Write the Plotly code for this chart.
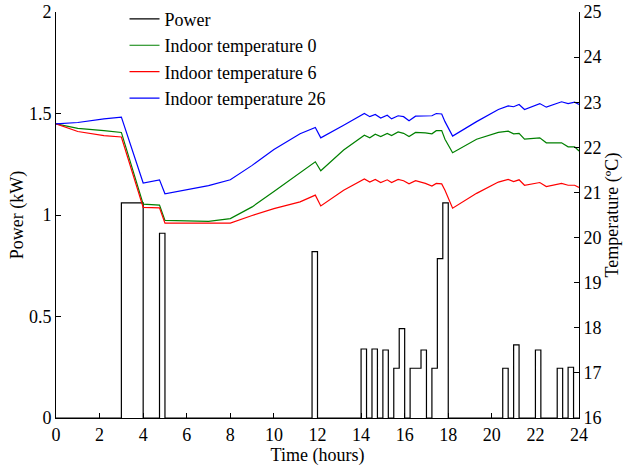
import plotly.graph_objects as go

# Power step profile (value holds from each time until the next)
power_time = [0, 3, 4, 4.75, 5, 11.75, 12, 14, 14.25, 14.5, 14.75, 15, 15.25, 15.5, 15.75,
              16, 16.25, 16.75, 17, 17.25, 17.5, 17.75, 18, 20.5, 20.75, 21, 21.25, 22,
              22.25, 23, 23.25, 23.5, 23.75, 24]
power_kw = [0, 1.06, 0, 0.91, 0, 0.82, 0, 0.34, 0, 0.34, 0, 0.335, 0, 0.245, 0.44,
            0, 0.245, 0.335, 0, 0.245, 0.785, 1.06, 0, 0.245, 0, 0.36, 0, 0.335,
            0, 0.245, 0, 0.25, 0, 0]

temp_time = [0, 1, 2.2, 3, 4, 4.75, 5, 7, 8, 9, 10, 11.2, 11.9, 12.15, 13.2, 14.15, 14.4,
             14.65, 14.9, 15.2, 15.4, 15.7, 15.95, 16.2, 16.5, 16.95, 17.25, 17.45, 17.7,
             17.85, 18.2, 19.3, 20.3, 20.75, 21.0, 21.25, 21.5, 22.2, 22.5, 23.2, 23.5,
             23.8, 24]
temp_0 = [22.52, 22.42, 22.37, 22.33, 20.74, 20.72, 20.38, 20.36, 20.42, 20.68, 21.02,
          21.43, 21.68, 21.48, 21.94, 22.27, 22.21, 22.29, 22.24, 22.31, 22.26, 22.34,
          22.31, 22.24, 22.33, 22.32, 22.30, 22.37, 22.37, 22.18, 21.88, 22.18, 22.33,
          22.36, 22.30, 22.31, 22.18, 22.21, 22.10, 22.10, 22.01, 22.01, 21.92]
temp_6 = [22.52, 22.35, 22.26, 22.23, 20.67, 20.66, 20.32, 20.32, 20.32, 20.49, 20.64,
          20.79, 20.94, 20.70, 21.05, 21.30, 21.23, 21.29, 21.22, 21.28, 21.22, 21.29,
          21.26, 21.19, 21.26, 21.20, 21.14, 21.20, 21.19, 21.05, 20.65, 20.98, 21.23,
          21.29, 21.24, 21.28, 21.16, 21.22, 21.13, 21.20, 21.16, 21.16, 21.11]
temp_26 = [22.52, 22.55, 22.63, 22.67, 21.21, 21.28, 20.97, 21.15, 21.28, 21.60, 21.95,
           22.30, 22.44, 22.21, 22.49, 22.75, 22.68, 22.73, 22.65, 22.71, 22.63, 22.70,
           22.68, 22.59, 22.69, 22.69, 22.70, 22.75, 22.74, 22.57, 22.25, 22.57, 22.84,
           22.92, 22.90, 22.95, 22.84, 22.97, 22.89, 23.01, 22.97, 23.00, 22.95]

x_ticks = list(range(0, 25, 2))
power_ticks = [0, 0.5, 1, 1.5, 2]
temp_ticks = list(range(16, 26))

FONT = "Liberation Serif, Times New Roman, serif"

fig = go.Figure()
fig.add_trace(go.Scatter(x=power_time, y=power_kw, mode="lines", line_shape="hv",
                         line=dict(color="black", width=1.2), name="Power",
                         legendgroup="a", yaxis="y"))
fig.add_trace(go.Scatter(x=temp_time, y=temp_0, mode="lines",
                         line=dict(color="#008000", width=1.2), name="Indoor temperature 0",
                         legendgroup="b", yaxis="y2"))
fig.add_trace(go.Scatter(x=temp_time, y=temp_6, mode="lines",
                         line=dict(color="#ff0000", width=1.2), name="Indoor temperature 6",
                         legendgroup="c", yaxis="y2"))
fig.add_trace(go.Scatter(x=temp_time, y=temp_26, mode="lines",
                         line=dict(color="#0000ff", width=1.2), name="Indoor temperature 26",
                         legendgroup="d", yaxis="y2"))

axis_common = dict(showgrid=False, zeroline=False, showline=True, linecolor="black",
                   linewidth=1, ticks="inside", ticklen=5, tickcolor="black",
                   tickfont=dict(family=FONT, size=18, color="black"))

fig.update_layout(
    width=642, height=469,
    margin=dict(l=56, r=63, t=12, b=51, autoexpand=False),
    paper_bgcolor="white", plot_bgcolor="white",
    font=dict(family=FONT, size=18, color="black"),
    xaxis=dict(range=[0, 24], tickvals=x_ticks, mirror=False,
               title=dict(text="Time (hours)", font=dict(family=FONT, size=18), standoff=0),
               **axis_common),
    yaxis=dict(range=[0, 2], tickvals=power_ticks,
               title=dict(text="Power (kW)", font=dict(family=FONT, size=18), standoff=0),
               **axis_common),
    yaxis2=dict(range=[16, 25], tickvals=temp_ticks, overlaying="y", side="right",
                title=dict(text="Temperature (ºC)", font=dict(family=FONT, size=18), standoff=4),
                **axis_common),
    legend=dict(x=0.131, y=1.028, xanchor="left", yanchor="top", bgcolor="rgba(0,0,0,0)",
                borderwidth=0, font=dict(family=FONT, size=18), tracegroupgap=0,
                traceorder="normal"),
    showlegend=True,
)

fig.write_html("out.html")
